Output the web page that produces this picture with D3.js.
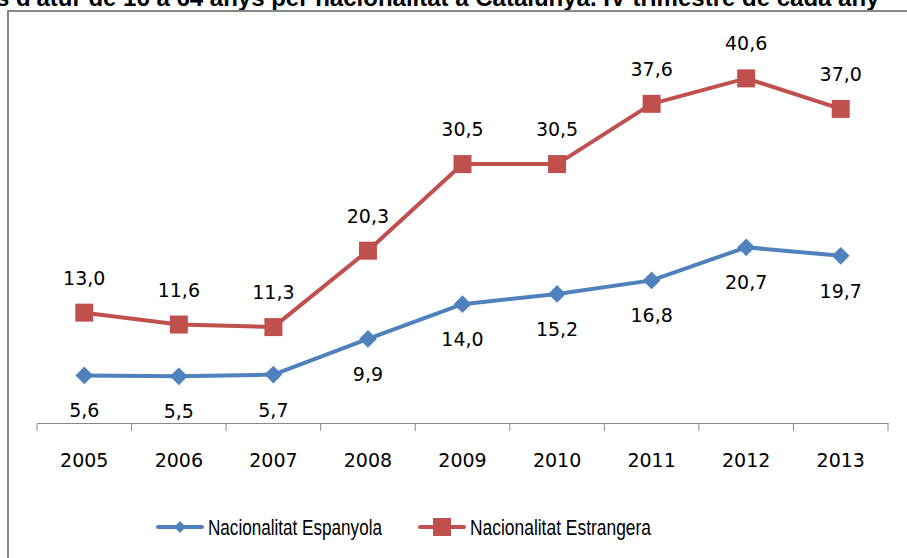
<!DOCTYPE html>
<html>
<head>
    <meta charset="utf-8">
    <title>Taxes d'atur per nacionalitat a Catalunya</title>
    <script src="https://cdnjs.cloudflare.com/ajax/libs/d3/7.8.5/d3.min.js"></script>
    <style>
        body { margin: 0; background: #fff; }
        svg { display: block; }
        .lbl { font-family: "DejaVu Sans", Verdana, sans-serif; font-size: 19px; fill: #000; }
        .legend text { font-family: "Liberation Sans", Arial, sans-serif; font-size: 22px; fill: #000; }
    </style>
</head>
<body>
<svg id="chart" width="907" height="558"></svg>
<script>
    var years = ["2005", "2006", "2007", "2008", "2009", "2010", "2011", "2012", "2013"];
    var espanyola = [5.6, 5.5, 5.7, 9.9, 14.0, 15.2, 16.8, 20.7, 19.7];
    var estrangera = [13.0, 11.6, 11.3, 20.3, 30.5, 30.5, 37.6, 40.6, 37.0];
    var seriesNames = ["Nacionalitat Espanyola", "Nacionalitat Estrangera"];
    var titleText = "Taxes d'atur de 16 a 64 anys per nacionalitat a Catalunya. IV trimestre de cada any";

    var blue = "#4f81bd", red = "#c0504d";
    var svg = d3.select("#chart");

    // title, cut off by the top of the picture
    var title = svg.append("text")
        .attr("y", 6)
        .style("font-family", "Liberation Sans, Arial, sans-serif")
        .style("font-size", "24px")
        .style("font-weight", "bold")
        .text(titleText);
    var prefix = svg.append("text")
        .style("font-family", "Liberation Sans, Arial, sans-serif")
        .style("font-size", "24px")
        .style("font-weight", "bold")
        .text("Taxe");
    var shift = prefix.node().getComputedTextLength();
    prefix.remove();
    title.attr("x", -shift - 4);

    // chart frame
    svg.append("rect")
        .attr("x", 8).attr("y", 11)
        .attr("width", 920).attr("height", 570)
        .attr("fill", "#fff")
        .attr("stroke", "#878787")
        .attr("stroke-width", 2);

    var x = d3.scaleBand().domain(years).range([37, 888]);
    var y = d3.scaleLinear().domain([0, 45]).range([423, 41]);
    var cx = function(d, i) { return x(years[i]) + x.bandwidth() / 2; };

    // x axis
    var axis = svg.append("g")
        .attr("transform", "translate(0,423)")
        .call(d3.axisBottom(x).tickSize(0).tickPadding(31));
    axis.select(".domain").attr("stroke", "#888").attr("stroke-width", 1);
    axis.selectAll("text")
        .attr("class", "lbl")
        .style("font-family", "DejaVu Sans, Verdana, sans-serif")
        .style("font-size", "19px")
        .attr("fill", "#000");
    var edges = years.map(function(d) { return x(d); }).concat([x.range()[1]]);
    axis.selectAll("line.edge").data(edges).enter().append("line")
        .attr("class", "edge")
        .attr("x1", function(d) { return d; }).attr("x2", function(d) { return d; })
        .attr("y1", 0).attr("y2", 8)
        .attr("stroke", "#888");

    var line = d3.line()
        .x(cx)
        .y(function(d) { return y(d); });

    // Estrangera
    svg.append("path").datum(estrangera)
        .attr("d", line).attr("fill", "none")
        .attr("stroke", red).attr("stroke-width", 4).attr("stroke-linejoin", "round");
    svg.selectAll("rect.mk").data(estrangera).enter().append("rect")
        .attr("class", "mk")
        .attr("x", function(d, i) { return cx(d, i) - 9; })
        .attr("y", function(d) { return y(d) - 9; })
        .attr("width", 18).attr("height", 18)
        .attr("fill", red);

    // Espanyola
    svg.append("path").datum(espanyola)
        .attr("d", line).attr("fill", "none")
        .attr("stroke", blue).attr("stroke-width", 4).attr("stroke-linejoin", "round");
    svg.selectAll("path.dm").data(espanyola).enter().append("path")
        .attr("class", "dm")
        .attr("d", d3.symbol().type(d3.symbolDiamond2).size(200))
        .attr("transform", function(d, i) { return "translate(" + cx(d, i) + "," + y(d) + ")"; })
        .attr("fill", blue);

    var fmt = function(v) { return v.toFixed(1).replace(".", ","); };

    svg.selectAll("text.lr").data(estrangera).enter().append("text")
        .attr("class", "lbl")
        .attr("text-anchor", "middle")
        .attr("x", cx)
        .attr("y", function(d) { return y(d) - 28; })
        .text(fmt);
    svg.selectAll("text.lb").data(espanyola).enter().append("text")
        .attr("class", "lbl")
        .attr("text-anchor", "middle")
        .attr("x", cx)
        .attr("y", function(d) { return y(d) + 42; })
        .text(fmt);

    // legend
    var legend = svg.append("g").attr("class", "legend");
    var items = [
        { name: seriesNames[0], color: blue, x: 158, shape: "diamond", w: 174 },
        { name: seriesNames[1], color: red, x: 420, shape: "square", w: 181 }
    ];
    items.forEach(function(it) {
        var g = legend.append("g").attr("transform", "translate(" + it.x + ",527)");
        g.append("line").attr("x1", 0).attr("x2", 44)
            .attr("stroke", it.color).attr("stroke-width", 4).attr("stroke-linecap", "round");
        if (it.shape === "square") {
            g.append("rect").attr("x", 13).attr("y", -9).attr("width", 18).attr("height", 18).attr("fill", it.color);
        } else {
            g.append("path").attr("d", d3.symbol().type(d3.symbolDiamond2).size(90))
                .attr("transform", "translate(22,0)").attr("fill", it.color);
        }
        g.append("text").attr("x", 50).attr("y", 8)
            .attr("textLength", it.w).attr("lengthAdjust", "spacingAndGlyphs")
            .text(it.name);
    });
</script>
</body>
</html>
